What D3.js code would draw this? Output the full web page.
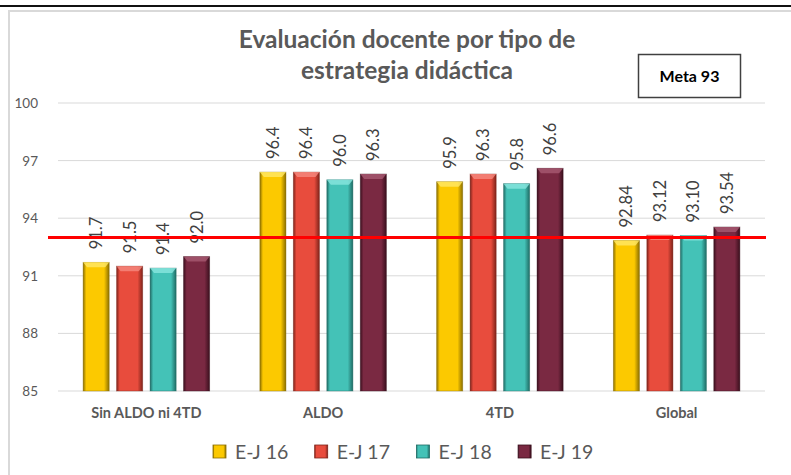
<!DOCTYPE html>
<html>
<head>
<meta charset="utf-8">
<script src="https://cdn.jsdelivr.net/npm/d3@7"></script>
<style>
  body { margin: 0; background: #fff; }
  svg { display: block; font-family: Lato, "Open Sans", sans-serif; }
</style>
</head>
<body>
<div id="chart"></div>
<script>
// data
const categories = ['Sin ALDO ni 4TD', 'ALDO', '4TD', 'Global'];
const series = ['E-J 16', 'E-J 17', 'E-J 18', 'E-J 19'];
const decimals = [1, 1, 1, 2];
const values = [
    [91.7, 91.5, 91.4, 92.0],
    [96.4, 96.4, 96.0, 96.3],
    [95.9, 96.3, 95.8, 96.6],
    [92.84, 93.12, 93.10, 93.54]
];
const yTicks = [85, 88, 91, 94, 97, 100];
const meta = 93;
const colors = ['#FCC900', '#E84C3D', '#44C2B7', '#7A2942'];
const darks = ['#8A6E00', '#7E231A', '#1F6B64', '#3A0F1D'];
const lights = ['#FFE866', '#F58A80', '#8AE6DE', '#A85A72'];

const width = 791, height = 475;
const svg = d3.select('#chart').append('svg')
    .attr('width', width)
    .attr('height', height);

// frame
svg.append('line').attr('x1', 0).attr('x2', width).attr('y1', 6).attr('y2', 6)
    .attr('stroke', '#111').attr('stroke-width', 2);
svg.append('path').attr('d', 'M9,' + height + ' V11 H' + width)
    .attr('fill', 'none').attr('stroke', '#D9D9D9').attr('stroke-width', 2);

const x0 = d3.scaleBand().domain(categories).range([58, 765]);
const x1 = d3.scaleBand().domain(series).range([0, x0.bandwidth()])
    .paddingInner(0.22).paddingOuter(0.75);
const y = d3.scaleLinear().domain([85, 100]).range([391, 103]);

// gradients for bevelled bars
const defs = svg.append('defs');
colors.forEach((c, i) => {
    const g = defs.append('linearGradient').attr('id', 'g' + i)
        .attr('x1', 0).attr('x2', 1).attr('y1', 0).attr('y2', 0);
    g.append('stop').attr('offset', '0%').attr('stop-color', darks[i]);
    g.append('stop').attr('offset', '12%').attr('stop-color', c);
    g.append('stop').attr('offset', '80%').attr('stop-color', c);
    g.append('stop').attr('offset', '100%').attr('stop-color', darks[i]);
});

// grid
svg.append('g').selectAll('line').data(yTicks).join('line')
    .attr('x1', 58).attr('x2', 765)
    .attr('y1', d => y(d)).attr('y2', d => y(d))
    .attr('stroke', '#D9D9D9').attr('stroke-width', 1);

svg.append('g').selectAll('text').data(yTicks).join('text')
    .attr('x', 38).attr('y', d => y(d) + 5)
    .attr('text-anchor', 'end')
    .attr('font-size', 13.5)
    .attr('fill', '#595959')
    .text(d => d);

// bars
const groups = svg.append('g').selectAll('g').data(categories).join('g')
    .attr('transform', d => 'translate(' + x0(d) + ',0)');

groups.each(function(cat, ci) {
    const g = d3.select(this);
    const rows = series.map((s, si) => ({ s, si, v: values[ci][si] }));
    const bw = x1.bandwidth();
    g.selectAll('rect.bar').data(rows).join('rect')
        .attr('class', 'bar')
        .attr('x', d => x1(d.s))
        .attr('y', d => y(d.v))
        .attr('width', bw)
        .attr('height', d => y(85) - y(d.v))
        .attr('fill', d => 'url(#g' + d.si + ')')
        .attr('stroke', d => darks[d.si])
        .attr('stroke-opacity', 0.5)
        .attr('stroke-width', 0.8);
    // top bevel
    g.selectAll('path.bevel').data(rows).join('path')
        .attr('class', 'bevel')
        .attr('d', d => {
            const xl = x1(d.s), yt = y(d.v);
            return 'M' + xl + ',' + yt + ' H' + (xl + bw) + ' L' + (xl + bw - 4) + ',' + (yt + 5) +
                ' H' + (xl + 4) + ' Z';
        })
        .attr('fill', d => lights[d.si])
        .attr('opacity', 0.8);
    // value labels
    g.selectAll('text.val').data(rows).join('text')
        .attr('class', 'val')
        .attr('transform', d => 'translate(' + (x1(d.s) + bw / 2 + 6) + ',' + (y(d.v) - 13) + ') rotate(-90)')
        .attr('font-size', 16.5)
        .attr('fill', '#404040')
        .text(d => d.v.toFixed(decimals[ci]));
});

// category labels
svg.append('g').selectAll('text').data(categories).join('text')
    .attr('x', d => x0(d) + x0.bandwidth() / 2)
    .attr('y', 418)
    .attr('text-anchor', 'middle')
    .attr('font-size', 14.5)
    .attr('font-weight', 'bold')
    .attr('fill', '#595959')
    .text(d => d);

// meta line
svg.append('line')
    .attr('x1', 48).attr('x2', 766)
    .attr('y1', y(meta)).attr('y2', y(meta))
    .attr('stroke', '#FF0000').attr('stroke-width', 3);

// title
svg.append('text')
    .attr('x', 407).attr('y', 48)
    .attr('text-anchor', 'middle')
    .attr('font-size', 24.5)
    .attr('font-weight', 'bold')
    .attr('fill', '#595959')
    .selectAll('tspan').data(['Evaluación docente por tipo de', 'estrategia didáctica']).join('tspan')
    .attr('x', 407)
    .attr('dy', (d, i) => i ? 31 : 0)
    .text(d => d);

// meta box
svg.append('rect')
    .attr('x', 638.5).attr('y', 54.5).attr('width', 102).attr('height', 43)
    .attr('fill', '#fff').attr('stroke', '#404040').attr('stroke-width', 1.5);
svg.append('text')
    .attr('x', 689.5).attr('y', 82)
    .attr('text-anchor', 'middle')
    .attr('font-size', 16)
    .attr('font-weight', 'bold')
    .attr('fill', '#000')
    .text('Meta ' + meta);

// legend
const legend = svg.append('g').selectAll('g').data(series).join('g')
    .attr('transform', (d, i) => 'translate(' + (213 + i * 101.7) + ',445)');
legend.append('rect')
    .attr('width', 13).attr('height', 13)
    .attr('fill', (d, i) => 'url(#g' + i + ')')
    .attr('stroke', (d, i) => darks[i]).attr('stroke-width', 0.8);
legend.append('text')
    .attr('x', 22).attr('y', 14)
    .attr('font-size', 19.5)
    .attr('fill', '#595959')
    .text(d => d);
</script>
</body>
</html>
